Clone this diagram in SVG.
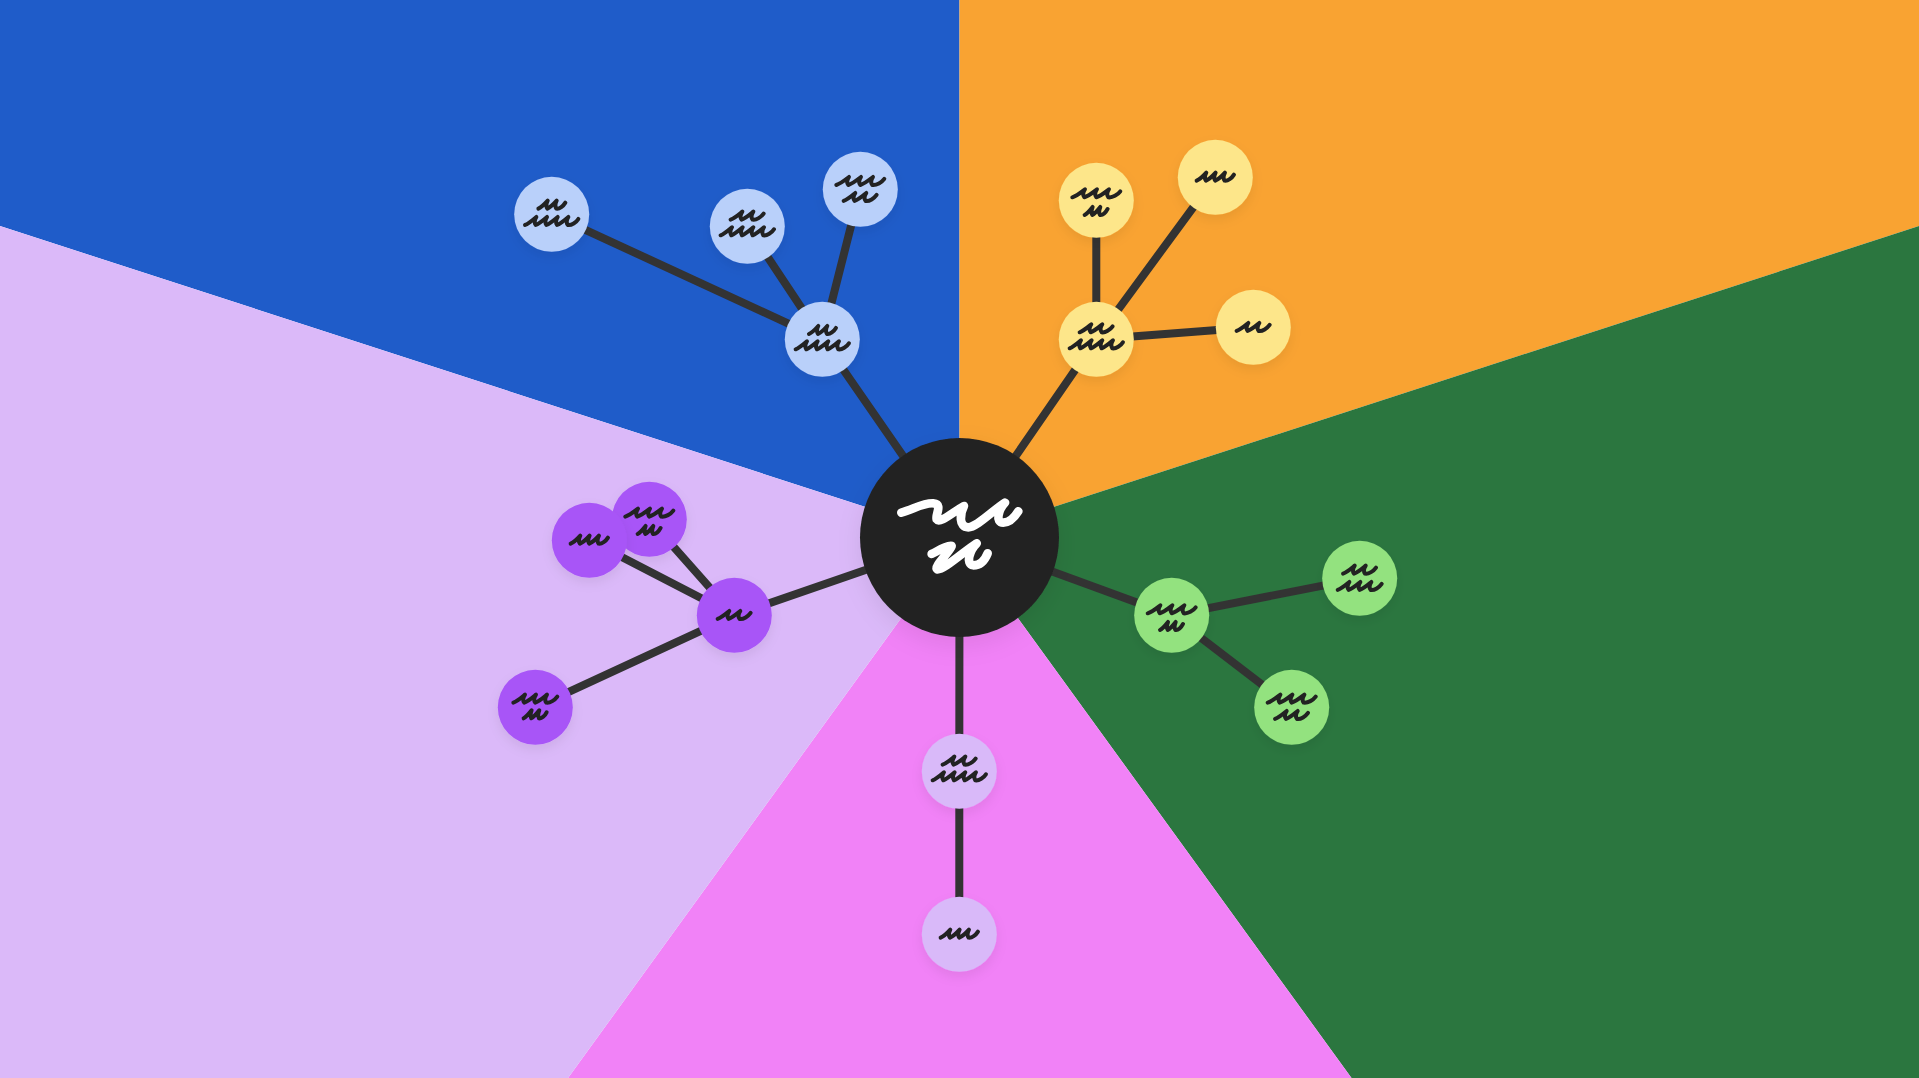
<svg xmlns="http://www.w3.org/2000/svg" width="1919" height="1078" viewBox="0 0 1919 1078">
<style>
.c{stroke:#333333;stroke-width:8;fill:none}
.n{filter:url(#sh)}
.s{fill:none;stroke:#222222;stroke-width:12;stroke-linecap:round;stroke-linejoin:round}
.b{fill:#b9d0fa}.y{fill:#fde68a}.p{fill:#a855f7}.g{fill:#93e27f}.l{fill:#d9b9f9}
</style>
<defs>
<filter id="sh" x="-30%" y="-30%" width="160%" height="170%"><feDropShadow dx="0" dy="5" stdDeviation="6" flood-color="#000" flood-opacity="0.07"/></filter>
<filter id="shb" x="-30%" y="-30%" width="160%" height="170%"><feDropShadow dx="0" dy="8" stdDeviation="12" flood-color="#000" flood-opacity="0.08"/></filter>
<path id="w70" class="s" d="M-35,10c8,-4 16,-14 24,-24c-3,8 -5,18 -1,24c8,-4 16,-14 24,-24c-3,8 -5,18 -1,24c8,2 18,-8 23,-18"/>
<path id="w80" class="s" d="M-40,10c9,-4 19,-14 28,-24c-4,8 -5,18 -1,24c9,-4 19,-14 28,-24c-4,8 -5,18 -1,24c9,2 21,-8 27,-18"/>
<path id="w100" class="s" d="M-50,10c12,-4 23,-14 35,-24c-5,8 -7,18 -2,24c12,-4 23,-14 35,-24c-5,8 -7,18 -2,24c11,2 26,-8 33,-18"/>
<path id="w113" class="s" d="M-56,10c10,-4 20,-14 29,-24c-4,8 -6,18 -1,24c10,-4 20,-14 29,-24c-4,8 -6,18 -1,24c10,-4 20,-14 29,-24c-4,8 -6,18 -1,24c9,2 22,-8 28,-18"/>
<path id="w132" class="s" d="M-66,10c12,-4 23,-14 35,-24c-5,8 -7,18 -2,24c12,-4 23,-14 35,-24c-5,8 -7,18 -2,24c12,-4 23,-14 35,-24c-5,8 -7,18 -2,24c11,2 26,-8 33,-18"/>
<path id="w145" class="s" d="M-72,10c13,-4 25,-14 38,-24c-5,8 -7,18 -2,24c13,-4 25,-14 38,-24c-5,8 -7,18 -2,24c13,-4 25,-14 38,-24c-5,8 -7,18 -2,24c12,2 29,-8 36,-18"/>
<path id="w160" class="s" d="M-80,10c11,-4 22,-14 34,-24c-5,8 -6,18 -2,24c11,-4 22,-14 34,-24c-5,8 -6,18 -2,24c11,-4 22,-14 34,-24c-5,8 -6,18 -2,24c11,-4 22,-14 34,-24c-5,8 -6,18 -2,24c11,2 26,-8 32,-18"/>
</defs>
<g id="background">
<polygon fill="#1f5cc9" points="959.5,537.5 959.5,0 0,0 0,226"/>
<polygon fill="#f9a332" points="959.5,537.5 959.5,0 1919,0 1919,226"/>
<polygon fill="#2b763f" points="959.5,537.5 1919,226 1919,1078 1351.5,1078"/>
<polygon fill="#f182f7" points="959.5,537.5 1351.5,1078 568,1078"/>
<polygon fill="#dbb9f9" points="959.5,537.5 568,1078 0,1078 0,226"/>
</g>
<g id="connectors">
<path class="c" d="M959.5,537.5L822.3,339.3M822.3,339.3L551.7,214.3M822.3,339.3L747.3,226.3M822.3,339.3L860.3,189.3"/>
<path class="c" d="M959.5,537.5L1096.3,339.3M1096.3,339.3L1096.3,200.3M1096.3,339.3L1215.3,177.3M1096.3,339.3L1253.3,327.3"/>
<path class="c" d="M959.5,537.5L734.3,615.3M734.3,615.3L649.3,519.3M734.3,615.3L589.3,540.3M734.3,615.3L535.3,707.3"/>
<path class="c" d="M959.5,537.5L1171.7,615.3M1171.7,615.3L1359.7,578.3M1171.7,615.3L1291.7,707.3"/>
<path class="c" d="M959.5,537.5L959.3,771.3M959.3,771.3L959.3,934.3"/>
</g>
<g id="center" filter="url(#shb)"><circle cx="959.5" cy="537.5" r="99.5" fill="#222222"/>
<g transform="translate(820,420) scale(.3333)" fill="none" stroke="#ffffff" stroke-width="26" stroke-linecap="round" stroke-linejoin="round">
<path d="M244,278C280,268 310,248 340,250C370,252 345,285 350,298C360,312 400,275 432,258C420,280 415,322 445,322C470,322 520,270 555,248C535,270 525,308 550,308C570,308 585,290 595,274"/>
<path d="M335,402C355,392 385,375 395,378C390,395 340,440 352,448C372,450 430,395 470,370C450,390 435,432 460,436C480,436 495,420 503,400"/>
</g></g>
<g id="blue-a"><circle class="n b" cx="551.7" cy="214.3" r="37.5"/><g transform="translate(551.7,214.3) scale(.3333)"><use href="#w80" y="-27"/><use href="#w160" y="22"/></g></g>
<g id="blue-b"><circle class="n b" cx="747.3" cy="226.3" r="37.5"/><g transform="translate(747.3,226.3) scale(.3333)"><use href="#w100" y="-30"/><use href="#w160" y="17"/></g></g>
<g id="blue-c"><circle class="n b" cx="860.3" cy="189.3" r="37.5"/><g transform="translate(860.3,189.3) scale(.3333)"><use href="#w145" y="-23"/><use href="#w100" y="25"/></g></g>
<g id="blue-hub"><circle class="n b" cx="822.3" cy="339.3" r="37.5"/><g transform="translate(822.3,339.3) scale(.3333)"><use href="#w80" y="-26"/><use href="#w160" y="20"/></g></g>
<g id="yellow-a"><circle class="n y" cx="1096.3" cy="200.3" r="37.5"/><g transform="translate(1096.3,200.3) scale(.3333)"><use href="#w145" y="-19"/><use href="#w70" y="34"/></g></g>
<g id="yellow-b"><circle class="n y" cx="1215.3" cy="177.3" r="37.5"/><g transform="translate(1215.3,177.3) scale(.3333)"><use href="#w113" y="0"/></g></g>
<g id="yellow-c"><circle class="n y" cx="1253.3" cy="327.3" r="37.5"/><g transform="translate(1253.3,327.3) scale(.3333)"><use href="#w100" y="1"/></g></g>
<g id="yellow-hub"><circle class="n y" cx="1096.3" cy="339.3" r="37.5"/><g transform="translate(1096.3,339.3) scale(.3333)"><use href="#w100" y="-31"/><use href="#w160" y="17"/></g></g>
<g id="purple-a"><circle class="n p" cx="649.3" cy="519.3" r="37.5"/><g transform="translate(649.3,519.3) scale(.3333)"><use href="#w145" y="-18"/><use href="#w70" y="34"/></g></g>
<g id="purple-b"><circle class="n p" cx="589.3" cy="540.3" r="37.5"/><g transform="translate(589.3,540.3) scale(.3333)"><use href="#w113" y="0"/></g></g>
<g id="purple-c"><circle class="n p" cx="535.3" cy="707.3" r="37.5"/><g transform="translate(535.3,707.3) scale(.3333)"><use href="#w132" y="-24"/><use href="#w70" y="23"/></g></g>
<g id="purple-hub"><circle class="n p" cx="734.3" cy="615.3" r="37.5"/><g transform="translate(734.3,615.3) scale(.3333)"><use href="#w100" y="1"/></g></g>
<g id="green-a"><circle class="n g" cx="1359.7" cy="578.3" r="37.5"/><g transform="translate(1359.7,578.3) scale(.3333)"><use href="#w100" y="-24"/><use href="#w132" y="25"/></g></g>
<g id="green-b"><circle class="n g" cx="1291.7" cy="707.3" r="37.5"/><g transform="translate(1291.7,707.3) scale(.3333)"><use href="#w145" y="-24"/><use href="#w100" y="25"/></g></g>
<g id="green-hub"><circle class="n g" cx="1171.7" cy="615.3" r="37.5"/><g transform="translate(1171.7,615.3) scale(.3333)"><use href="#w145" y="-16"/><use href="#w70" y="34"/></g></g>
<g id="pink-a"><circle class="n l" cx="959.3" cy="771.3" r="37.5"/><g transform="translate(959.3,771.3) scale(.3333)"><use href="#w100" y="-30"/><use href="#w160" y="17"/></g></g>
<g id="pink-b"><circle class="n l" cx="959.3" cy="934.3" r="37.5"/><g transform="translate(959.3,934.3) scale(.3333)"><use href="#w113" y="0"/></g></g>
</svg>
